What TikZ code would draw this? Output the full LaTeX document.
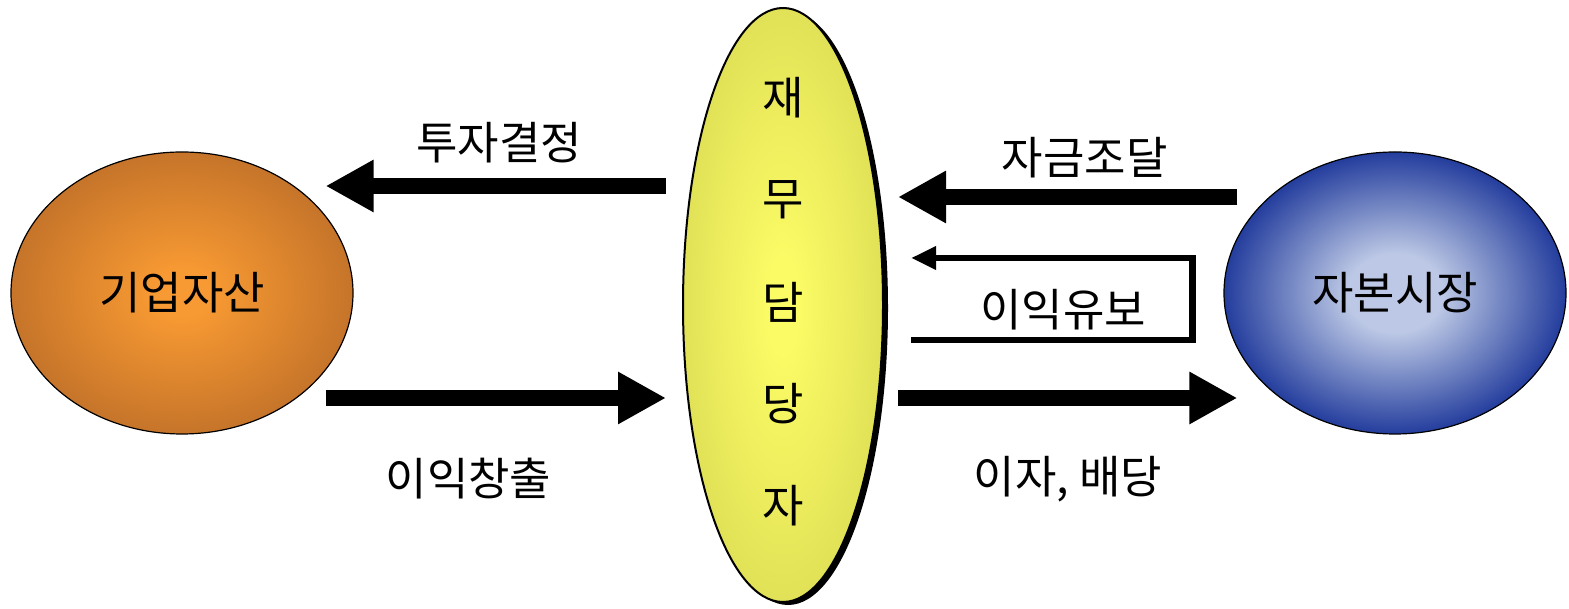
\documentclass[tikz,border=0pt]{standalone}
\usepackage{fontspec}
\setmainfont{Noto Sans CJK KR}
\usetikzlibrary{shapes.geometric,arrows.meta,calc,shadows}

\definecolor{corpin}{HTML}{F89A33}
\definecolor{corpout}{HTML}{BC6D28}
\definecolor{mktin}{HTML}{BCC8E5}
\definecolor{mktout}{HTML}{132E95}
\definecolor{finin}{HTML}{FBFB66}
\definecolor{finout}{HTML}{D8D852}
\pgfdeclareradialshading{corpshade}{\pgfpoint{0bp}{0bp}}{color(0bp)=(corpin); color(4bp)=(corpin); color(29bp)=(corpout); color(50bp)=(corpout)}
\pgfdeclareradialshading{mktshade}{\pgfpoint{0bp}{0bp}}{color(0bp)=(mktin); color(7bp)=(mktin); color(27bp)=(mktout); color(50bp)=(mktout)}
\pgfdeclareradialshading{finshade}{\pgfpoint{0bp}{0bp}}{color(0bp)=(finin); color(4bp)=(finin); color(33bp)=(finout); color(50bp)=(finout)}

\begin{document}
\begin{tikzpicture}[x=1pt, y=1pt,
                    every node/.style={font=\fontsize{45}{52}\selectfont},
                    blob/.style={ellipse, draw=black, line width=1.2pt, inner sep=0pt},
                    bigarrow/.style={line width=16pt, -{Triangle[length=48pt,width=49pt]}},
                    looparrow/.style={line width=6.5pt, -{Triangle[length=25pt,width=22pt]}}
]
\useasboundingbox (0,0) rectangle (1569,609);

\node [blob, shading=corpshade, minimum width=342pt, minimum height=282pt] at (182,316) (corp) {기업자산};
\node [blob, shading=mktshade, minimum width=342pt, minimum height=282pt] at (1395,316) (market) {자본시장};
\node [blob, line width=2pt, shading=finshade, minimum width=200pt, minimum height=594pt,
       general shadow={fill=black, shadow xshift=5pt, shadow yshift=-3pt}] at (783,304) (fin) {};
\foreach \ch [count=\i] in {재,무,담,당,자}
  \node at ($(fin.center)+(0,{(3-\i)*102+3})$) (fin\i) {\ch};
%
\draw [bigarrow] ($(fin.west)+(-16,119)$) -- ($(corp.east)+(-28,107)$) node[pos=0.49, above=12pt] (invest) {투자결정};
\draw [bigarrow] ($(corp.east)+(-28,-105)$) -- ($(fin.west)+(-16,-93)$) node[pos=0.42, below=49pt] (profit) {이익창출};
%
\draw [bigarrow] ($(market.west)+(14,96)$) -- ($(fin.east)+(14,108)$) node[pos=0.45, above=8pt] (raise) {자금조달};
\draw [bigarrow] ($(fin.east)+(14,-93)$) -- ($(market.west)+(14,-105)$) node[pos=0.50, below=47pt] (payout) {이자, 배당};
%
\draw [looparrow] ($(fin.east)+(27,-35)$) -| ($(market.west)+(-31,35)$) -- ($(fin.east)+(27,47)$);
\node at ($(fin.east)+(179,-5)$) (retain) {이익유보};
\end{tikzpicture}
\end{document}
